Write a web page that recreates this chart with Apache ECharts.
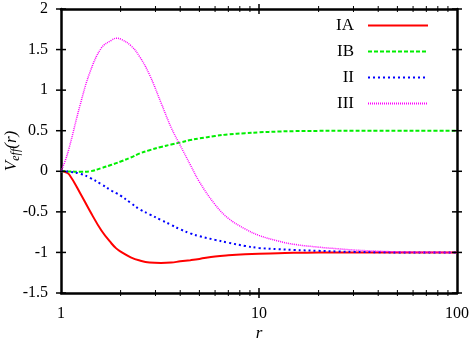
<!DOCTYPE html>
<html>
<head>
<meta charset="utf-8">
<script src="https://cdn.jsdelivr.net/npm/echarts@6/dist/echarts.min.js"></script>
<style>
  html, body { margin: 0; padding: 0; background: #fff; }
  #chart { width: 474px; height: 342px; }
</style>
</head>
<body>
<div id="chart"></div>
<script>
// r values (log axis) shared by all curves
const rValues = [1, 1.05, 1.1, 1.25, 1.4, 1.6, 1.8, 1.9, 2, 2.25, 2.5, 2.8, 3.2, 3.6, 4, 4.5, 5, 6, 7, 8.5, 10, 12.5, 15, 20, 25, 30, 40, 50, 70, 100]

const seriesIA  = [0, -0.01, -0.04, -0.27, -0.49, -0.73, -0.89, -0.95, -0.99, -1.06, -1.10, -1.125, -1.13, -1.125, -1.11, -1.095, -1.08, -1.05, -1.035, -1.022, -1.015, -1.01, -1.005, -1.002, -1, -1, -1, -1, -1, -1]
const seriesIB  = [0, -0.001, -0.003, -0.005, 0.0, 0.04, 0.08, 0.10, 0.12, 0.17, 0.22, 0.26, 0.30, 0.33, 0.355, 0.385, 0.405, 0.435, 0.455, 0.47, 0.48, 0.49, 0.495, 0.498, 0.5, 0.5, 0.5, 0.5, 0.5, 0.5]
const seriesII  = [0, -0.001, -0.005, -0.03, -0.08, -0.16, -0.24, -0.27, -0.30, -0.39, -0.47, -0.53, -0.60, -0.66, -0.715, -0.765, -0.80, -0.845, -0.88, -0.92, -0.945, -0.96, -0.97, -0.98, -0.988, -0.993, -0.997, -1, -1, -1]
const seriesIII = [0, 0.13, 0.29, 0.82, 1.22, 1.52, 1.615, 1.64, 1.63, 1.55, 1.41, 1.19, 0.845, 0.54, 0.32, 0.08, -0.13, -0.41, -0.58, -0.71, -0.79, -0.86, -0.90, -0.935, -0.955, -0.97, -0.985, -0.993, -0.998, -1]

const seriesNames = ['IA', 'IB', 'II', 'III']
const xRange = [1, 100]
const yRange = [-1.5, 2]
const majorTicksX = [1, 10, 100]
const innerMajorX = [10]
const minorTicksX = [2, 3, 4, 5, 6, 7, 8, 9, 20, 30, 40, 50, 60, 70, 80, 90]
const ticksY = [-1.5, -1, -0.5, 0, 0.5, 1, 1.5, 2]

const font = 'Liberation Serif'
const frame = () => ({ show: true, onZero: false, lineStyle: { color: '#000', width: 2.5 } })

const pairs = arr => rValues.map((r, i) => [r, arr[i]])

// tick marks drawn as thin rect symbols sitting on the frame
const tickSeries = (data, size, offset) => ({
  type: 'scatter',
  silent: true,
  clip: false,
  symbol: 'rect',
  symbolSize: size,
  symbolOffset: offset,
  itemStyle: { color: '#000', opacity: 1 },
  emphasis: { disabled: true },
  z: 5,
  data: data
})

const chart = echarts.init(document.getElementById('chart'))

const option = {
  animation: false,
  grid: { left: 61, right: 17, top: 9, bottom: 49, outerBoundsMode: 'none' },
  tooltip: { show: false },
  // axis titles
  graphic: [
    {
      type: 'text',
      x: 12,
      y: 151,
      rotation: Math.PI / 2,
      style: {
        text: '{v|V}{s|eff}{v|(r)}',
        align: 'center',
        verticalAlign: 'middle',
        fill: '#000',
        rich: {
          v: { fontFamily: font, fontSize: 17, fontStyle: 'italic', fill: '#000', lineHeight: 20 },
          s: { fontFamily: font, fontSize: 12, fontStyle: 'italic', fill: '#000', lineHeight: 12, verticalAlign: 'bottom' }
        }
      }
    },
    {
      type: 'text',
      x: 259,
      y: 334,
      style: { text: 'r', align: 'center', verticalAlign: 'middle', fill: '#000', fontFamily: font, fontSize: 17, fontStyle: 'italic' }
    }
  ],
  legend: {
    orient: 'vertical',
    right: 45,
    top: 17,
    padding: 0,
    itemWidth: 60,
    itemHeight: 14,
    itemGap: 9,
    align: 'right',
    data: seriesNames,
    itemStyle: { opacity: 0 },
    textStyle: { fontFamily: font, fontSize: 17, color: '#000', padding: [0, 9, 0, 0] }
  },
  xAxis: [
    {
      type: 'log',
      min: xRange[0],
      max: xRange[1],
      position: 'bottom',
      axisLine: frame(),
      axisTick: { show: false },
      splitLine: { show: false },
      axisLabel: { show: true, margin: 13, fontFamily: font, fontSize: 16, color: '#000', customValues: majorTicksX }
    },
    {
      type: 'log',
      min: xRange[0],
      max: xRange[1],
      position: 'top',
      axisLine: frame(),
      axisTick: { show: false },
      splitLine: { show: false },
      axisLabel: { show: false }
    }
  ],
  yAxis: [
    {
      type: 'value',
      min: yRange[0],
      max: yRange[1],
      interval: 0.5,
      position: 'left',
      axisLine: frame(),
      axisTick: { show: false },
      splitLine: { show: false },
      axisLabel: { show: true, margin: 13, fontFamily: font, fontSize: 16, color: '#000' }
    },
    {
      type: 'value',
      min: yRange[0],
      max: yRange[1],
      interval: 0.5,
      position: 'right',
      offset: 0,
      axisLine: frame(),
      axisTick: { show: false },
      splitLine: { show: false },
      axisLabel: { show: false }
    }
  ],
  series: [
    {
      name: 'IA', type: 'line', smooth: 0.4, showSymbol: false, symbol: 'none',
      lineStyle: { color: '#ff0000', width: 2, type: 'solid' },
      itemStyle: { color: '#ff0000' },
      data: pairs(seriesIA)
    },
    {
      name: 'IB', type: 'line', smooth: 0.4, showSymbol: false, symbol: 'none',
      lineStyle: { color: '#00ee00', width: 2, type: [4, 2] },
      itemStyle: { color: '#00ee00' },
      data: pairs(seriesIB)
    },
    {
      name: 'II', type: 'line', smooth: 0.4, showSymbol: false, symbol: 'none',
      lineStyle: { color: '#0000ff', width: 2, type: [2, 3] },
      itemStyle: { color: '#0000ff' },
      data: pairs(seriesII)
    },
    {
      name: 'III', type: 'line', smooth: 0.4, showSymbol: false, symbol: 'none',
      lineStyle: { color: '#ff00ff', width: 1.5, type: [1, 1] },
      itemStyle: { color: '#ff00ff' },
      data: pairs(seriesIII)
    },
    // x ticks, bottom and top
    tickSeries(innerMajorX.map(v => [v, yRange[0]]), [1.5, 10], [0, 0]),
    tickSeries(innerMajorX.map(v => [v, yRange[1]]), [1.5, 10], [0, 0]),
    tickSeries(minorTicksX.map(v => [v, yRange[0]]), [1, 6], [0, 0]),
    tickSeries(minorTicksX.map(v => [v, yRange[1]]), [1, 6], [0, 0]),
    // y ticks, left and right
    tickSeries(ticksY.map(v => [xRange[0], v]), [10, 1.5], [0, 0]),
    tickSeries(ticksY.map(v => [xRange[1], v]), [10, 1.5], [0, 0])
  ]
}

chart.setOption(option)
</script>
</body>
</html>
